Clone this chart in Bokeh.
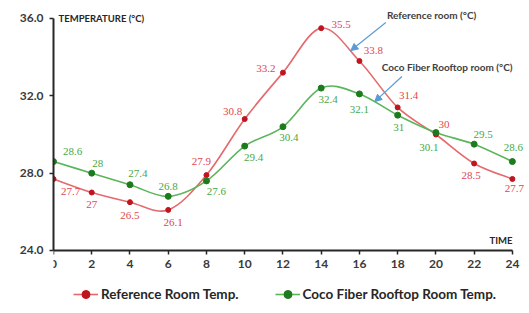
import numpy as np
from bokeh.plotting import figure
from bokeh.models import (ColumnDataSource, Arrow, NormalHead, Label, LabelSet, Legend,
                          LegendItem, FixedTicker, PrintfTickFormatter, Range1d)
from bokeh.embed import file_html
from bokeh.resources import INLINE

# ---- data ----
time_h = [0, 2, 4, 6, 8, 10, 12, 14, 16, 18, 20, 22, 24]
ref_temp = [27.7, 27.0, 26.5, 26.1, 27.9, 30.8, 33.2, 35.5, 33.8, 31.4, 30.0, 28.5, 27.7]
coco_temp = [28.6, 28.0, 27.4, 26.8, 27.6, 29.4, 30.4, 32.4, 32.1, 31.0, 30.1, 29.5, 28.6]
ref_text = ["27.7", "27", "26.5", "26.1", "27.9", "30.8", "33.2", "35.5", "33.8", "31.4", "30", "28.5", "27.7"]
coco_text = ["28.6", "28", "27.4", "26.8", "27.6", "29.4", "30.4", "32.4", "32.1", "31", "30.1", "29.5", "28.6"]
x_ticks = [0, 2, 4, 6, 8, 10, 12, 14, 16, 18, 20, 22, 24]
y_ticks = [24.0, 28.0, 32.0, 36.0]

# label offsets (style, screen px; dy positive = up)
ref_dx = [17, 0, 0, 5, -5, -12, -17, 20, 14, 11, 8, -3, 2]
ref_dy = [-13, -12, -13, -13, 14, 8, 4, 4, 11, 12, 10, -12, -10]
coco_dx = [19, 6, 8, 0, 10, 9, 6, 7, 0, 1, -7, 9, 1]
coco_dy = [10, 10, 11, 10, -11, -11, -11, -11, -16, -12, -15, 10, 14]

FONT = "Lato"
RED_LINE, RED_PT, RED_TXT = "#E46A6E", "#C0141E", "#E0474F"
GRN_LINE, GRN_PT, GRN_TXT = "#5BB55B", "#1D7A1D", "#47A847"


def bezier_segments(x, y, t=1 / 6):
    x = np.asarray(x, float)
    y = np.asarray(y, float)
    n = len(x) - 1
    xp = np.concatenate([[x[0]], x, [x[-1]]])
    yp = np.concatenate([[y[0]], y, [y[-1]]])
    return dict(
        x0=x[:-1], y0=y[:-1], x1=x[1:], y1=y[1:],
        cx0=xp[1:n + 1] + (xp[2:n + 2] - xp[0:n]) * t,
        cy0=yp[1:n + 1] + (yp[2:n + 2] - yp[0:n]) * t,
        cx1=xp[2:n + 2] - (xp[3:n + 3] - xp[1:n + 1]) * t,
        cy1=yp[2:n + 2] - (yp[3:n + 3] - yp[1:n + 1]) * t,
    )


# frame extends past the axes (axes limited with bounds, x axis fixed at y=24)
# so that labels and the legend are not clipped
p = figure(frame_width=474, frame_height=305, output_backend="svg", toolbar_location=None,
           x_range=Range1d(0, 24.79), y_range=Range1d(21.155, 36.931),
           min_border_left=53, min_border_right=0, min_border_top=0, min_border_bottom=0)
p.outline_line_color = None
p.grid.visible = False
p.background_fill_color = "white"
p.border_fill_color = "white"

ref_line = p.bezier(source=ColumnDataSource(bezier_segments(time_h, ref_temp)),
                    x0="x0", y0="y0", x1="x1", y1="y1", cx0="cx0", cy0="cy0", cx1="cx1", cy1="cy1",
                    line_color=RED_LINE, line_width=1.6)
coco_line = p.bezier(source=ColumnDataSource(bezier_segments(time_h, coco_temp)),
                     x0="x0", y0="y0", x1="x1", y1="y1", cx0="cx0", cy0="cy0", cx1="cx1", cy1="cy1",
                     line_color=GRN_LINE, line_width=1.6)

ref_src = ColumnDataSource(dict(x=time_h, y=ref_temp, t=ref_text, dx=ref_dx, dy=ref_dy))
coco_src = ColumnDataSource(dict(x=time_h, y=coco_temp, t=coco_text, dx=coco_dx, dy=coco_dy))

ref_pts = p.scatter("x", "y", source=ref_src, marker="circle", size=5,
                    fill_color=RED_PT, line_color=RED_PT)
coco_pts = p.scatter("x", "y", source=coco_src, marker="circle", size=6,
                     fill_color=GRN_PT, line_color=GRN_PT)

p.add_layout(LabelSet(x="x", y="y", text="t", source=ref_src, x_offset="dx", y_offset="dy",
                      text_font=FONT, text_font_size="11px", text_color=RED_TXT,
                      text_align="center", text_baseline="middle"))
p.add_layout(LabelSet(x="x", y="y", text="t", source=coco_src, x_offset="dx", y_offset="dy",
                      text_font=FONT, text_font_size="11px", text_color=GRN_TXT,
                      text_align="center", text_baseline="middle"))

# axes
for ax in (p.xaxis[0], p.yaxis[0]):
    ax.axis_line_width = 2
    ax.axis_line_color = "#262626"
    ax.major_tick_line_color = "#262626"
    ax.major_tick_line_width = 1.5
    ax.major_tick_in = 0
    ax.major_tick_out = 4
    ax.minor_tick_line_color = None
    ax.major_label_text_font = FONT
    ax.major_label_text_font_style = "bold"
    ax.major_label_text_font_size = "12px"
    ax.major_label_text_color = "#3a3a3a"
p.xaxis.ticker = FixedTicker(ticks=x_ticks)
p.yaxis.ticker = FixedTicker(ticks=y_ticks)
p.xaxis.bounds = (min(x_ticks), max(x_ticks))
p.yaxis.bounds = (min(y_ticks), max(y_ticks))
p.xaxis.fixed_location = min(y_ticks)
p.yaxis.formatter = PrintfTickFormatter(format="%.1f")
p.xaxis.major_label_standoff = 6
p.yaxis.major_label_standoff = 6

# axis titles
p.add_layout(Label(x=0, y=36, x_offset=5, text="TEMPERATURE (°C)", text_font=FONT,
                   text_font_style="bold", text_font_size="9.5px", text_color="#262626",
                   text_baseline="middle"))
p.add_layout(Label(x=24, y=24, x_offset=0, y_offset=10, text="TIME", text_font=FONT,
                   text_font_style="bold", text_font_size="9.5px", text_color="#262626",
                   text_align="right", text_baseline="middle"))

# callouts
p.add_layout(Label(x=17.44, y=36.2, text="Reference room (°C)", text_font=FONT,
                   text_font_style="bold", text_font_size="10px", text_color="#404040",
                   text_baseline="middle"))
p.add_layout(Label(x=17.17, y=33.47, text="Coco Fiber Rooftop room (°C)", text_font=FONT,
                   text_font_style="bold", text_font_size="10px", text_color="#404040",
                   text_baseline="middle"))
p.add_layout(Arrow(x_start=17.38, y_start=35.79, x_end=15.55, y_end=34.34,
                   line_color="#5B9BD5", line_width=1.2,
                   end=NormalHead(size=7, fill_color="#5B9BD5", line_color="#5B9BD5")))
p.add_layout(Arrow(x_start=18.22, y_start=33.0, x_end=16.8, y_end=31.7,
                   line_color="#5B9BD5", line_width=1.2,
                   end=NormalHead(size=7, fill_color="#5B9BD5", line_color="#5B9BD5")))

# legend (inside the extended frame, below the x axis)
legend = Legend(items=[LegendItem(label="Reference Room Temp.", renderers=[ref_line, ref_pts]),
                       LegendItem(label="Coco Fiber Rooftop Room Temp.", renderers=[coco_line, coco_pts])],
                orientation="horizontal", location=(20, 1), padding=0, margin=0,
                spacing=36, glyph_width=25, label_standoff=3,
                label_text_font=FONT, label_text_font_style="bold", label_text_font_size="13.5px",
                label_text_color="#262626", border_line_color=None, background_fill_alpha=0)
p.add_layout(legend)

open("out.html", "w").write(file_html(p, INLINE))
